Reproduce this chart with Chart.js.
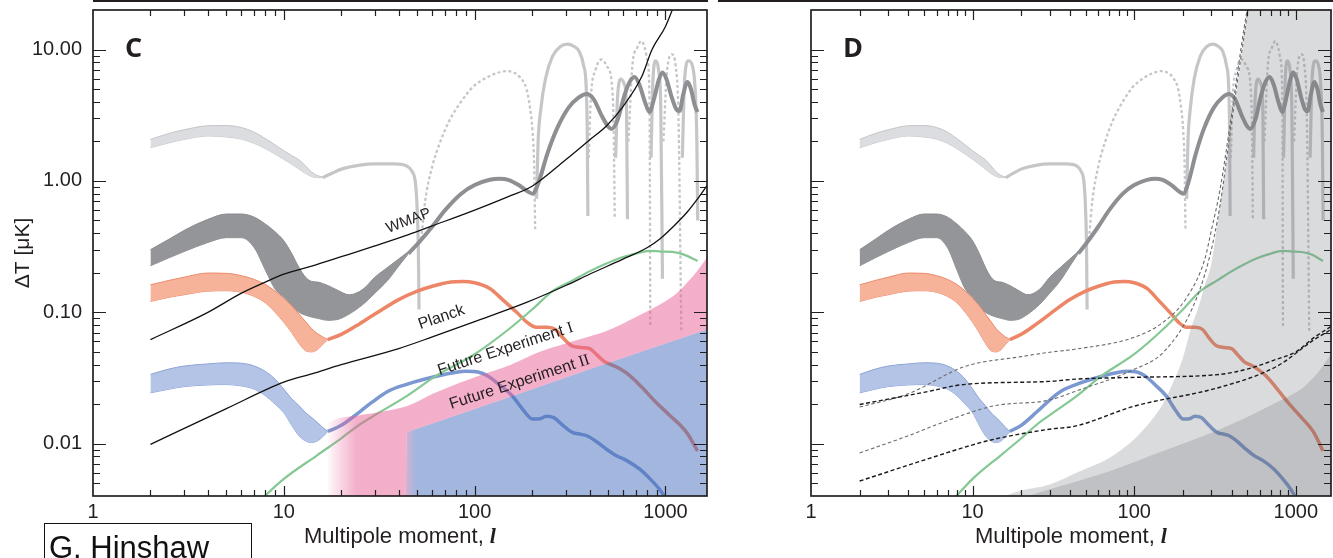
<!DOCTYPE html>
<html>
<head>
<meta charset="utf-8">
<script src="https://cdn.jsdelivr.net/npm/chart.js@4.4.0/dist/chart.umd.min.js"></script>
<style>
  body { margin: 0; background: #fff; width: 1333px; height: 558px; overflow: hidden; position: relative; }
  canvas { position: absolute; top: 0; }
  #chartC { left: 0; }
  #chartD { left: 700px; }
  .strip { position: absolute; top: 0; height: 2px; background: #231f20; }
  #credit { position: absolute; left: 44px; top: 523px; width: 208px; height: 60px; box-sizing: border-box;
    border: 1.5px solid #111; padding: 8px 0 0 4px; font: 31px/31px "Liberation Sans", Arial, sans-serif; color: #111; }
</style>
</head>
<body>
<div class="strip" style="left:93px;width:615px"></div>
<div class="strip" style="left:718px;width:615px"></div>
<canvas id="chartC" width="712" height="558"></canvas>
<canvas id="chartD" width="633" height="558"></canvas>
<div id="credit">G. Hinshaw</div>
<script>
// tick values
const xTicks = [1, 10, 100, 1000];
const yTicks = [0.01, 0.1, 1, 10];
const yMin = 0.004;

// TE low-l band (light gray)
const lbL = [2, 2.5, 3, 4, 5, 6, 7, 8, 9, 10, 11, 12, 13, 14, 15, 16];
const lbHi = [2.07, 2.3, 2.45, 2.63, 2.64, 2.55, 2.35, 2.1, 1.88, 1.7, 1.56, 1.45, 1.3, 1.17, 1.1, 1.07];
const lbLo = [1.79, 1.95, 2.07, 2.2, 2.16, 2.08, 1.93, 1.76, 1.6, 1.46, 1.34, 1.23, 1.14, 1.08, 1.06, 1.06];

// TE line, signed (negative parts drawn dashed), null = break
const teL = [16, 18, 20, 25, 30, 38, 44, 47, 49, 50, 50.7, 51.1, 51.5,
  52.5, 55, 60, 66, 73, 80, 90, 98, 115, 130, 147, 160, 172, 187, 195, 201, 205, 207.5, 209,
  211, 215, 222, 235, 256, 280, 307, 330, 354, 372, 384, 389, 392, 394,
  396, 406, 430, 462, 495, 522, 535, 542, 545,
  548, 560, 585, 610, 625, 632, 636,
  640, 670, 710, 748, 780, 803, 825, 832, 836,
  840, 860, 890, 920, 945, 964, 970,
  975, 1020, 1083, 1130, 1170, 1210, 1218,
  1225, 1260, 1320, 1380, 1430, 1460, 1475];
const teV = [1.06, 1.15, 1.23, 1.32, 1.35, 1.35, 1.3, 1.18, 0.95, 0.6, 0.3, 0.105, null,
  -0.36, -0.7, -1.3, -1.98, -2.8, -3.53, -4.5, -5.2, -6.1, -6.6, -6.86, -6.7, -6.2, -5.0, -3.6, -2.4, -1.3, -0.43, null,
  0.73, 2.0, 3.5, 6.0, 8.9, 10.5, 11.0, 10.6, 9.6, 7.6, 5.2, 2.4, 0.54, null,
  -1.5, -4.2, -7.0, -8.4, -7.4, -5.66, -2.5, -0.51, null,
  1.5, 4.2, 5.95, 5.4, 3.5, 0.51, null,
  -2.0, -7.5, -10.3, -11.6, -10.2, -8.4, -4.0, -0.078, null,
  1.5, 6.0, 8.2, 7.0, 3.5, 0.18, null,
  -2.0, -7.0, -9.2, -7.5, -3.0, -0.072, null,
  1.5, 6.0, 8.2, 7.6, 5.0, 2.0, 0.5];

// dark gray band + line
const dbL = [2, 2.5, 3, 4, 5, 6, 7, 8, 9, 10, 11, 12, 13, 14, 15, 17, 19, 22, 26, 30, 35, 40, 45];
const dbHi = [0.30, 0.36, 0.42, 0.51, 0.56, 0.56, 0.53, 0.47, 0.41, 0.35, 0.28, 0.22, 0.185, 0.172, 0.17, 0.16, 0.148, 0.136, 0.15, 0.185, 0.22, 0.255, 0.29];
const dbLo = [0.226, 0.26, 0.29, 0.34, 0.37, 0.37, 0.31, 0.21, 0.15, 0.13, 0.112, 0.1, 0.095, 0.092, 0.09, 0.087, 0.088, 0.097, 0.115, 0.14, 0.175, 0.225, 0.28];
const dlL = [45, 51, 60, 70, 85, 100, 120, 135, 150, 170, 190, 201, 215, 240, 270, 310, 350, 386, 420, 460, 500, 522, 560, 610, 650, 688, 730, 780, 824, 870, 920, 964, 1010, 1080, 1140, 1184, 1240, 1303, 1360, 1420, 1472];
const dlV = [0.28, 0.34, 0.45, 0.6, 0.8, 0.93, 1.02, 1.04, 1.02, 0.93, 0.83, 0.8, 0.95, 1.6, 2.5, 3.6, 4.3, 4.59, 4.2, 3.2, 2.6, 2.49, 2.9, 4.5, 5.7, 6.17, 5.4, 4.0, 3.35, 4.2, 5.8, 6.7, 6.0, 4.3, 3.5, 3.4, 4.6, 5.66, 5.0, 3.8, 3.35];

// orange band + line
const obL = [2, 2.5, 3, 4, 5, 6, 7, 8, 9, 10, 11, 12, 13, 14, 15, 16, 17];
const obHi = [0.162, 0.175, 0.185, 0.199, 0.198, 0.19, 0.178, 0.163, 0.145, 0.128, 0.112, 0.097, 0.085, 0.075, 0.069, 0.065, 0.062];
const obLo = [0.121, 0.13, 0.136, 0.145, 0.146, 0.142, 0.132, 0.118, 0.1, 0.084, 0.07, 0.058, 0.051, 0.05, 0.052, 0.057, 0.062];
const olL = [17, 20, 25, 30, 40, 50, 60, 75, 86, 100, 120, 140, 166, 190, 210, 240, 265, 290, 320, 360, 400, 440, 480, 530, 580, 650, 750, 890, 1050, 1290, 1472];
const olV = [0.062, 0.068, 0.082, 0.097, 0.125, 0.145, 0.158, 0.17, 0.172, 0.168, 0.152, 0.125, 0.1, 0.083, 0.077, 0.077, 0.074, 0.064, 0.056, 0.054, 0.053, 0.047, 0.042, 0.0395, 0.037, 0.033, 0.027, 0.0207, 0.0165, 0.0122, 0.0088];

// blue band + line
const bbL = [2, 2.5, 3, 4, 5, 6, 7, 8, 9, 10, 11, 12, 13, 14, 15, 16, 17];
const bbHi = [0.0337, 0.037, 0.039, 0.0405, 0.0413, 0.041, 0.039, 0.0355, 0.031, 0.026, 0.022, 0.0195, 0.0172, 0.0158, 0.0145, 0.0133, 0.0124];
const bbLo = [0.0244, 0.026, 0.0272, 0.028, 0.0282, 0.0275, 0.026, 0.0232, 0.02, 0.0172, 0.0138, 0.0115, 0.0105, 0.0102, 0.0105, 0.0113, 0.0124];
const blL = [17, 20, 25, 29, 35, 44, 63, 80, 90, 105, 116, 135, 158, 180, 201, 220, 237, 260, 290, 325, 360, 386, 430, 490, 553, 620, 733, 830, 930, 1020];
const blV = [0.0124, 0.0138, 0.0175, 0.0207, 0.025, 0.0283, 0.0326, 0.035, 0.0356, 0.035, 0.033, 0.028, 0.023, 0.018, 0.0154, 0.0155, 0.0162, 0.0158, 0.0138, 0.0122, 0.0118, 0.0115, 0.0105, 0.0091, 0.0081, 0.0075, 0.0064, 0.0054, 0.0045, 0.0037];

// green line
const glL = [7.5, 10, 15, 20, 25, 30, 44, 63, 100, 152, 200, 256, 326, 400, 480, 574, 700, 824, 950, 1090, 1250, 1472];
const glV = [0.0037, 0.0054, 0.0082, 0.011, 0.014, 0.0165, 0.023, 0.033, 0.048, 0.075, 0.105, 0.145, 0.175, 0.205, 0.232, 0.258, 0.28, 0.294, 0.29, 0.288, 0.275, 0.246];

// panel C noise levels
const wmL = [2, 4, 6, 8, 10, 14, 20, 30, 45, 60, 100, 150, 201, 300, 400, 490, 600, 750, 850, 1000, 1100];
const wmV = [0.062, 0.1, 0.14, 0.17, 0.195, 0.225, 0.265, 0.32, 0.39, 0.455, 0.6, 0.76, 0.916, 1.45, 2.05, 2.62, 3.7, 6.2, 10, 15, 21];
const plL = [2, 5, 10, 14, 20, 40, 60, 100, 187, 300, 400, 595, 800, 930, 1100, 1300, 1472, 1650];
const plV = [0.0099, 0.0185, 0.0294, 0.034, 0.040, 0.053, 0.065, 0.085, 0.119, 0.16, 0.195, 0.253, 0.31, 0.36, 0.45, 0.58, 0.73, 0.92];
const fe1L = [17, 20, 25, 30, 44, 63, 100, 147, 218, 300, 490, 700, 1090, 1400, 1650];
const fe1V = [0.0145, 0.0158, 0.0165, 0.0172, 0.0193, 0.0246, 0.032, 0.0388, 0.05, 0.058, 0.072, 0.092, 0.132, 0.19, 0.26];
const fe2L = [17, 43.5, 44, 100, 200, 400, 800, 1650];
const fe2V = [yMin, yMin, 0.0122, 0.0184, 0.026, 0.0368, 0.052, 0.074];

// panel D foregrounds and noise levels
const lgL = [15.9, 20, 30, 45, 70, 100, 130, 150, 170, 200, 227, 250, 273, 300, 339, 370, 397, 450, 505, 560, 700, 1650];
const lgV = [0.004, 0.0044, 0.0049, 0.0061, 0.0078, 0.0108, 0.0155, 0.02, 0.0275, 0.045, 0.079, 0.11, 0.16, 0.235, 0.646, 1.3, 2.62, 7, 20, 45, 200, 10000];
const dgL = [22, 30, 68, 151, 339, 762, 1135, 1400, 1671];
const dgV = [0.004, 0.0045, 0.0061, 0.0088, 0.0129, 0.0207, 0.0274, 0.036, 0.0496];
const nAL = [2, 5, 9, 30, 43, 100, 339, 500, 762, 1000, 1300, 1650];
const nAV = [0.0199, 0.0246, 0.0283, 0.0298, 0.031, 0.032, 0.0337, 0.037, 0.044, 0.05, 0.0645, 0.078];
const nBL = [2, 4, 9, 20, 30, 43, 100, 151, 209, 273, 300, 339, 397, 480, 530];
const nBV = [0.019, 0.024, 0.0388, 0.046, 0.0497, 0.0524, 0.0646, 0.084, 0.127, 0.253, 0.42, 0.85, 3.0, 15, 30];
const nCL = [2, 4, 7, 13.5, 30, 43, 100, 151, 227, 290, 339, 397, 505, 540];
const nCV = [0.0085, 0.0115, 0.015, 0.0194, 0.0215, 0.025, 0.0368, 0.0495, 0.105, 0.253, 0.646, 2.62, 20, 35];
const nDL = [2, 5, 10, 13.5, 30, 43, 100, 339, 762, 1300, 1650];
const nDV = [0.0052, 0.0075, 0.0098, 0.0108, 0.0129, 0.0136, 0.0193, 0.0269, 0.0388, 0.062, 0.074];

const FONT = '"Liberation Sans", Arial, sans-serif';
const INK = '#231f20';
const PINK = 'rgba(232,95,150,0.5)';
const BLUE = 'rgba(70,110,190,0.5)';

const pts = (ls, vs) => ls.map((l, i) => ({ x: l, y: vs[i] }));

const line = (ls, vs, color, width, order, extra) => Object.assign({
  data: pts(ls, vs),
  borderColor: color,
  borderWidth: width,
  pointRadius: 0,
  fill: false,
  cubicInterpolationMode: 'monotone',
  order
}, extra || {});

const band = (ls, hi, lo, fillColor, edge, order) => [
  line(ls, hi, edge, 1, order, { fill: '+1', backgroundColor: fillColor }),
  line(ls, lo, edge, 1, order)
];

const hGrad = (chart, l0, l1, c0, c1) => {
  const { ctx, chartArea, scales } = chart;
  if (!chartArea) return c1;
  const g = ctx.createLinearGradient(scales.x.getPixelForValue(l0), 0, scales.x.getPixelForValue(l1), 0);
  g.addColorStop(0, c0);
  g.addColorStop(1, c1);
  return g;
};

const spectra = () => [
  ...band(lbL, lbHi, lbLo, '#dcdde0', '#c4c5c7', 20),
  ...band(dbL, dbHi, dbLo, '#939598', '#8a8c8f', 19),
  ...band(obL, obHi, obLo, '#f6b39a', '#eb8a6c', 18),
  ...band(bbL, bbHi, bbLo, '#b3c4e6', '#8ba3d5', 18),
  line(teL, teV.map(v => v === null ? null : Math.abs(v)), '#c5c6c8', 3.2, 16, {
    segment: {
      borderDash: c => teV[c.p0DataIndex] < 0 ? [3, 2.5] : undefined,
      borderWidth: c => teV[c.p0DataIndex] < 0 ? 2.3 : 3.2
    }
  }),
  line(dlL, dlV, '#8e8f92', 4, 15),
  line(olL, olV, '#ec8666', 3.5, 14),
  line(blL, blV, '#7b98d1', 3.5, 14),
  line(glL, glV, '#84c894', 2.2, 13)
];

const xAxis = () => ({
  type: 'logarithmic', min: 1, max: 1650,
  grid: { display: false, drawTicks: false },
  border: { display: false },
  afterBuildTicks: s => { s.ticks = xTicks.map(v => ({ value: v })); },
  afterFit: s => { s.height = 62; },
  ticks: { padding: 4, color: INK, autoSkip: false, maxRotation: 0, font: { family: FONT, size: 20 }, callback: v => String(v) }
});

const yAxis = show => ({
  type: 'logarithmic', min: yMin, max: 20, display: show,
  grid: { display: false, drawTicks: false },
  border: { display: false },
  afterBuildTicks: s => { s.ticks = yTicks.map(v => ({ value: v })); },
  afterFit: s => { s.width = 93; s.paddingTop = 0; s.paddingBottom = 0; },
  ticks: { padding: 11, color: INK, autoSkip: false, font: { family: FONT, size: 20 }, callback: v => Number(v).toFixed(2) },
  title: { display: true, text: 'ΔT [μK]', color: INK, font: { family: FONT, size: 21 }, padding: { top: 11, bottom: 0 } }
});

const decor = (letter, notes) => ({
  id: 'decor',
  afterDraw(chart) {
    const { ctx, chartArea: a, scales: { x, y } } = chart;
    ctx.save();
    // inward tick marks and frame
    ctx.strokeStyle = INK;
    ctx.lineWidth = 1.2;
    ctx.beginPath();
    for (let d = 0; d <= 3; d++) {
      for (let m = 1; m <= 9; m++) {
        const v = m * Math.pow(10, d);
        if (v <= x.min || v >= x.max) continue;
        const px = Math.round(x.getPixelForValue(v)) + 0.5;
        const len = m === 1 ? 10 : 6;
        ctx.moveTo(px, a.top); ctx.lineTo(px, a.top + len);
        ctx.moveTo(px, a.bottom); ctx.lineTo(px, a.bottom - len);
      }
    }
    for (let d = -3; d <= 1; d++) {
      for (let m = 1; m <= 9; m++) {
        const v = m * Math.pow(10, d);
        if (v <= y.min * 1.001 || v >= y.max) continue;
        const py = Math.round(y.getPixelForValue(v)) + 0.5;
        const len = m === 1 ? 13 : 7;
        ctx.moveTo(a.left, py); ctx.lineTo(a.left + len, py);
        ctx.moveTo(a.right, py); ctx.lineTo(a.right - len, py);
      }
    }
    ctx.stroke();
    ctx.lineWidth = 1.7;
    ctx.strokeRect(a.left, a.top, a.right - a.left, a.bottom - a.top);

    // panel letter
    ctx.fillStyle = INK;
    ctx.font = 'bold 27px "Open Sans", ' + FONT;
    ctx.textBaseline = 'alphabetic';
    ctx.textAlign = 'left';
    ctx.fillText(letter, a.left + 32, a.top + 47);

    // x axis title with italic serif l
    const cx = (a.left + a.right) / 2;
    ctx.font = '22px ' + FONT;
    const t1 = 'Multipole moment, ';
    const w1 = ctx.measureText(t1).width;
    ctx.font = 'italic bold 22px "Liberation Serif", serif';
    const w2 = ctx.measureText('l').width;
    const x0 = cx - (w1 + w2) / 2;
    ctx.font = '22px ' + FONT;
    ctx.fillText(t1, x0, a.bottom + 47);
    ctx.font = 'italic bold 22px "Liberation Serif", serif';
    ctx.fillText('l', x0 + w1, a.bottom + 47);

    // curve labels
    notes.forEach(n => {
      ctx.save();
      ctx.translate(x.getPixelForValue(n.l), y.getPixelForValue(n.v));
      ctx.rotate(n.rot * Math.PI / 180);
      ctx.textBaseline = 'middle';
      ctx.textAlign = 'left';
      ctx.font = n.size + 'px ' + FONT;
      const a1 = ctx.measureText(n.text).width;
      ctx.font = n.size + 'px "Liberation Serif", serif';
      const a2 = n.roman ? ctx.measureText(n.roman).width : 0;
      ctx.font = n.size + 'px ' + FONT;
      ctx.fillText(n.text, -(a1 + a2) / 2, 0);
      if (n.roman) {
        ctx.font = n.size + 'px "Liberation Serif", serif';
        ctx.fillText(n.roman, -(a1 + a2) / 2 + a1, 0);
      }
      ctx.restore();
    });
    ctx.restore();
  }
});

const baseOptions = (showY, padding) => ({
  responsive: false,
  animation: false,
  devicePixelRatio: 1,
  events: [],
  layout: { padding },
  plugins: { legend: { display: false }, tooltip: { enabled: false } },
  scales: { x: xAxis(), y: yAxis(showY) }
});

new Chart(document.getElementById('chartC'), {
  type: 'line',
  data: {
    datasets: [
      ...spectra(),
      line(fe1L, fe1V, 'rgba(0,0,0,0)', 0, 5, {
        fill: '+1',
        cubicInterpolationMode: 'default', tension: 0.3,
        backgroundColor: c => hGrad(c.chart, 16.5, 24, 'rgba(232,95,150,0)', PINK)
      }),
      line(fe2L, fe2V, 'rgba(0,0,0,0)', 0, 5, {
        fill: 'start',
        cubicInterpolationMode: 'default', tension: 0,
        backgroundColor: c => hGrad(c.chart, 41, 49, PINK, BLUE)
      }),
      line(wmL, wmV, '#111', 1.3, 1),
      line(plL, plV, '#111', 1.3, 1)
    ]
  },
  options: baseOptions(true, { top: 10, right: 5, left: 0, bottom: 0 }),
  plugins: [decor('C', [
    { text: 'WMAP', l: 45, v: 0.497, rot: -21, size: 15 },
    { text: 'Planck', l: 67, v: 0.0916, rot: -19, size: 16 },
    { text: 'Future Experiment ', roman: 'I', l: 145, v: 0.0524, rot: -18, size: 16 },
    { text: 'Future Experiment ', roman: 'II', l: 172, v: 0.0294, rot: -18, size: 16 }
  ])]
});

new Chart(document.getElementById('chartD'), {
  type: 'line',
  data: {
    datasets: [
      ...spectra(),
      line(lgL, lgV, 'rgba(0,0,0,0)', 0, 6, { fill: 'start', backgroundColor: 'rgba(120,122,128,0.27)' }),
      line(dgL, dgV, 'rgba(0,0,0,0)', 0, 5, { fill: 'start', backgroundColor: 'rgba(90,92,98,0.2)' }),
      line(nAL, nAV, '#1a1a1a', 1.4, 1, { borderDash: [4, 2.5] }),
      line(nBL, nBV, '#6a6a6a', 1.1, 1, { borderDash: [3.5, 2.5] }),
      line(nCL, nCV, '#6a6a6a', 1.1, 1, { borderDash: [3.5, 2.5] }),
      line(nDL, nDV, '#1a1a1a', 1.4, 1, { borderDash: [4, 2.5] })
    ]
  },
  options: baseOptions(false, { top: 10, right: 2, left: 18, bottom: 0 }),
  plugins: [decor('D', [])]
});
</script>
</body>
</html>
